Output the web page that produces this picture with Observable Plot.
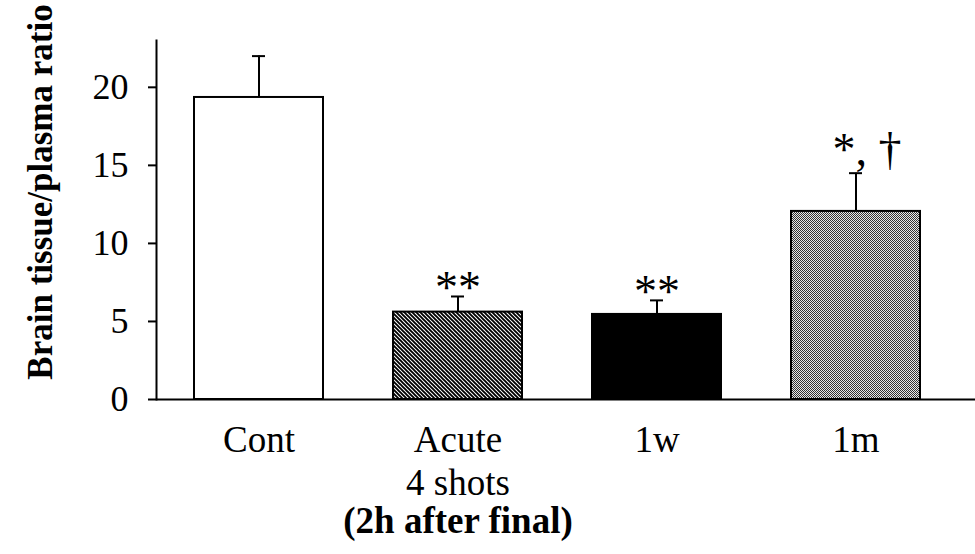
<!DOCTYPE html>
<html>
<head>
<meta charset="utf-8">
<script src="https://cdn.jsdelivr.net/npm/d3@7"></script>
<script src="https://cdn.jsdelivr.net/npm/@observablehq/plot@0.6"></script>
<style>
  html, body { margin: 0; padding: 0; background: white; }
</style>
</head>
<body>
<div id="chart"></div>
<script>
const categories = ["Cont", "Acute", "1w", "1m"];
const means = [19.35, 5.6, 5.45, 12.05];
const errors = [2.65, 1.0, 0.9, 2.45];
const xLabels = ["Cont", "Acute\n4 shots", "1w", "1m"];
const subLabel = "(2h after final)";
const significance = ["", "**", "**", "*, \u2020"];
const yTicks = [0, 5, 10, 15, 20];
const yLabel = "Brain tissue/plasma ratio";

const table = categories.map((c, i) => ({
  cat: c, mean: means[i], err: errors[i], label: xLabels[i], sig: significance[i]
}));

const fills = ["white", "url(#hatch)", "black", "url(#stipple)"];
const font = "'Liberation Serif', 'Times New Roman', serif";

const chart = Plot.plot({
  width: 975,
  height: 554,
  marginLeft: 156,
  marginRight: 0,
  marginTop: 40,
  marginBottom: 155,
  style: {fontFamily: font, background: "white", color: "black"},
  x: {type: "band", domain: categories, paddingInner: 0.35, paddingOuter: 0.224, align: 0.407, axis: null},
  y: {domain: [0, 23]},
  color: {type: "ordinal", domain: categories, range: fills},
  marks: [
    Plot.barY(table, {x: "cat", y: "mean", fill: "cat", stroke: "black", strokeWidth: 2}),
    Plot.ruleX(table, {x: "cat", y1: "mean", y2: d => d.mean + d.err, stroke: "black", strokeWidth: 2}),
    Plot.tickY(table, {x: "cat", y: d => d.mean + d.err, stroke: "black", strokeWidth: 2, inset: 58}),
    Plot.ruleY([0], {stroke: "black", strokeWidth: 2}),
    Plot.frame({anchor: "left", stroke: "black", strokeWidth: 2}),
    Plot.axisY({ticks: yTicks, tickSize: 8, tickPadding: 20, fontSize: 36, label: null, strokeWidth: 2}),
    Plot.text([yLabel], {frameAnchor: "left", textAnchor: "middle", text: d => d, rotate: -90, dx: -116, dy: -28, fontSize: 35, fontWeight: "bold"}),
    Plot.text(table, {x: "cat", text: "label", frameAnchor: "bottom", textAnchor: "middle", lineAnchor: "top", dy: 23, fontSize: 37, lineHeight: 1.14}),
    Plot.text([subLabel], {x: () => categories[1], text: d => d, frameAnchor: "bottom", textAnchor: "middle", lineAnchor: "top", dy: 107, fontSize: 37, fontWeight: "bold"}),
    Plot.text(table.filter(d => d.sig === "**"), {x: "cat", y: d => d.mean + d.err, text: "sig", dy: -8, fontSize: 46}),
    Plot.text(table.filter(d => d.sig.includes("\u2020")), {x: "cat", y: d => d.mean + d.err, text: "sig", dy: -23, dx: 11, fontSize: 46})
  ]
});

const svg = d3.select(chart.tagName.toLowerCase() === "svg" ? chart : chart.querySelector("svg"));
const defs = svg.insert("defs", ":first-child");
const hatch = defs.append("pattern").attr("id", "hatch").attr("patternUnits", "userSpaceOnUse")
  .attr("width", 4).attr("height", 4);
hatch.append("rect").attr("width", 4).attr("height", 4).attr("fill", "white");
hatch.append("path").attr("d", "M-1,-1 L5,5 M3,-1 L5,1 M-1,3 L1,5").attr("stroke", "black").attr("stroke-width", 1.9);
const stipple = defs.append("pattern").attr("id", "stipple").attr("patternUnits", "userSpaceOnUse")
  .attr("width", 2).attr("height", 2);
stipple.append("rect").attr("width", 2).attr("height", 2).attr("fill", "#e8e8e8");
stipple.append("rect").attr("x", 0).attr("y", 0).attr("width", 1).attr("height", 1).attr("fill", "#333");
stipple.append("rect").attr("x", 1).attr("y", 1).attr("width", 1).attr("height", 1).attr("fill", "#333");

document.getElementById("chart").appendChild(chart);
</script>
</body>
</html>
